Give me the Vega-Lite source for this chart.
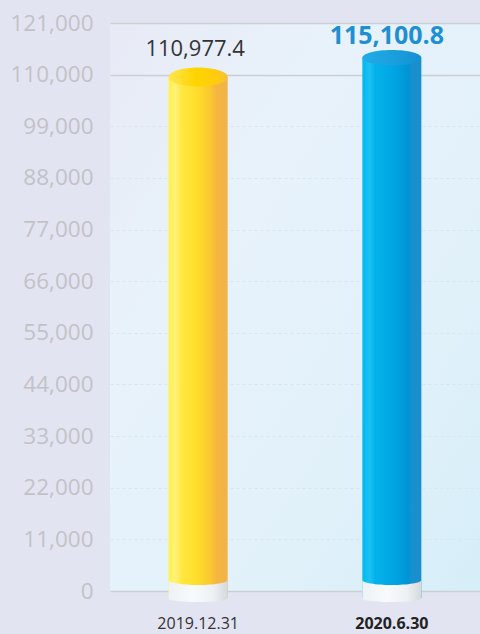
{
  "$schema": "https://vega.github.io/schema/vega-lite/v6.json",
  "width": 370,
  "height": 568,
  "autosize": {"type": "none"},
  "padding": {"left": 110, "top": 23, "right": 0, "bottom": 43},
  "background": "#e3e4f2",
  "view": {
    "stroke": null,
    "fill": {
      "gradient": "linear", "x1": 0, "y1": 0, "x2": 1, "y2": 1,
      "stops": [
        {"offset": 0, "color": "#e8eaf6"},
        {"offset": 0.3, "color": "#e8f2fb"},
        {"offset": 0.7, "color": "#e1f1fa"},
        {"offset": 1, "color": "#d6eef8"}
      ]
    }
  },
  "data": {
    "values": [
      {"date": "2019.12.31", "value": 110977.4},
      {"date": "2020.6.30", "value": 115100.8}
    ]
  },
  "encoding": {
    "x": {
      "field": "date", "type": "nominal", "sort": null,
      "scale": {"paddingInner": 0.69, "paddingOuter": 0.3},
      "axis": {
        "title": null, "domain": false, "ticks": false, "labelAngle": 0,
        "labelFont": "Open Sans", "labelFontSize": 16, "labelPadding": 24,
        "labelColor": {"condition": {"test": "datum.value === '2020.6.30'", "value": "#222222"}, "value": "#333333"},
        "labelFontWeight": {"condition": {"test": "datum.value === '2020.6.30'", "value": "bold"}, "value": "normal"}
      }
    },
    "y": {
      "field": "value", "type": "quantitative",
      "scale": {"domain": [0, 121000], "nice": false, "zero": true},
      "axis": {
        "title": null, "domain": false, "ticks": false,
        "values": [0, 11000, 22000, 33000, 44000, 55000, 66000, 77000, 88000, 99000, 110000, 121000],
        "format": ",d",
        "labelFont": "Open Sans", "labelFontSize": 22.5, "labelColor": "#c2c2c6", "labelPadding": 17,
        "gridColor": {"condition": {"test": "datum.value === 0 || datum.value >= 110000", "value": "#cbcfd3"}, "value": "#dbe5ee"},
        "gridDash": {"condition": {"test": "datum.value === 0 || datum.value >= 110000", "value": []}, "value": [3, 3]},
        "gridWidth": {"condition": {"test": "datum.value === 0 || datum.value >= 110000", "value": 1.5}, "value": 1}
      }
    }
  },
  "layer": [
    {
      "transform": [{"filter": "datum.date === '2019.12.31'"}],
      "mark": {
        "type": "bar", "width": 59, "yOffset": 7,
        "color": {
          "gradient": "linear", "x1": 0, "y1": 0, "x2": 1, "y2": 0,
          "stops": [
            {"offset": 0, "color": "#fff04a"},
            {"offset": 0.12, "color": "#fff27a"},
            {"offset": 0.22, "color": "#ffe840"},
            {"offset": 0.5, "color": "#ffdc2a"},
            {"offset": 0.72, "color": "#f9c630"},
            {"offset": 0.8, "color": "#f4b640"},
            {"offset": 1, "color": "#f2b248"}
          ]
        }
      }
    },
    {
      "transform": [{"filter": "datum.date === '2020.6.30'"}],
      "mark": {
        "type": "bar", "width": 59, "yOffset": 7,
        "color": {
          "gradient": "linear", "x1": 0, "y1": 0, "x2": 1, "y2": 0,
          "stops": [
            {"offset": 0, "color": "#00b8ee"},
            {"offset": 0.12, "color": "#1cc2f2"},
            {"offset": 0.22, "color": "#04b2ea"},
            {"offset": 0.55, "color": "#00a4e2"},
            {"offset": 0.78, "color": "#0094d6"},
            {"offset": 0.82, "color": "#1890cf"},
            {"offset": 1, "color": "#1a8ecc"}
          ]
        }
      }
    },
    {
      "mark": {
        "type": "point", "filled": true, "opacity": 1, "strokeWidth": 0, "size": 3481,
        "shape": "M-1,-0.37 A1,0.17 0 0,0 1,-0.37 L1,0.25 A1,0.12 0 0,1 -1,0.25 Z",
        "color": {
          "gradient": "linear", "x1": 0, "y1": 0, "x2": 1, "y2": 0,
          "stops": [
            {"offset": 0, "color": "#eef2f4"},
            {"offset": 0.4, "color": "#f8fafb"},
            {"offset": 0.75, "color": "#eef1f3"},
            {"offset": 1, "color": "#d4d9dd"}
          ]
        }
      },
      "encoding": {"y": {"datum": 0}}
    },
    {
      "transform": [{"filter": "datum.date === '2019.12.31'"}],
      "mark": {
        "type": "point", "filled": true, "opacity": 1, "strokeWidth": 0, "size": 3481, "yOffset": 7,
        "shape": "M-1,0 A1,0.32 0 1,0 1,0 A1,0.32 0 1,0 -1,0 Z",
        "color": {
          "gradient": "linear", "x1": 0, "y1": 0, "x2": 1, "y2": 0,
          "stops": [
            {"offset": 0, "color": "#ffe650"},
            {"offset": 0.45, "color": "#ffd400"},
            {"offset": 0.8, "color": "#ffcc10"},
            {"offset": 1, "color": "#f8c030"}
          ]
        }
      }
    },
    {
      "transform": [{"filter": "datum.date === '2020.6.30'"}],
      "mark": {
        "type": "point", "filled": true, "opacity": 1, "strokeWidth": 0, "size": 3481, "yOffset": 7,
        "shape": "M-1,0 A1,0.26 0 1,0 1,0 A1,0.26 0 1,0 -1,0 Z",
        "color": {
          "gradient": "linear", "x1": 0, "y1": 0, "x2": 1, "y2": 0,
          "stops": [
            {"offset": 0, "color": "#22ace6"},
            {"offset": 0.5, "color": "#1aa0de"},
            {"offset": 1, "color": "#1590d2"}
          ]
        }
      }
    },
    {
      "transform": [{"filter": "datum.date === '2019.12.31'"}],
      "mark": {"type": "text", "font": "Open Sans", "fontSize": 22, "color": "#333333", "baseline": "alphabetic", "dy": -14, "dx": -3},
      "encoding": {"text": {"field": "value", "format": ",.1f"}}
    },
    {
      "transform": [{"filter": "datum.date === '2020.6.30'"}],
      "mark": {"type": "text", "font": "Open Sans", "fontSize": 25, "fontWeight": "bold", "color": "#1f8fd3", "baseline": "alphabetic", "dy": -7, "dx": -5},
      "encoding": {"text": {"field": "value", "format": ",.1f"}}
    }
  ]
}
